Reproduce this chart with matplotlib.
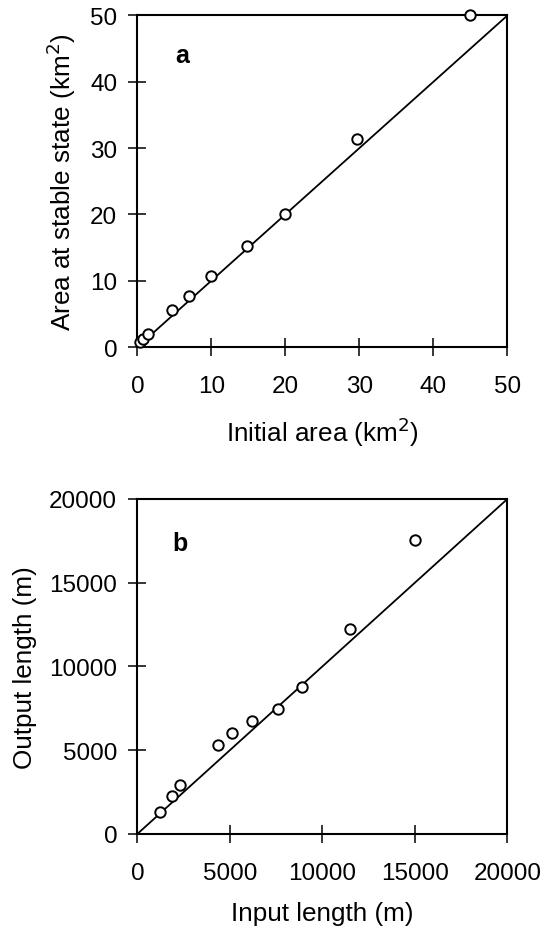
import matplotlib
matplotlib.use("Agg")
import matplotlib.pyplot as plt

plt.rcParams['font.family'] = ['Liberation Sans', 'DejaVu Sans']

# Panel a data
area_initial = [0.4, 0.8, 1.5, 4.7, 7.0, 9.9, 14.8, 19.9, 29.7, 44.9]
area_stable = [0.7, 1.2, 2.0, 5.6, 7.7, 10.7, 15.2, 20.0, 31.3, 50.0]
a_ticks = [0, 10, 20, 30, 40, 50]

# Panel b data
input_length = [1220, 1850, 2300, 4340, 5090, 6190, 7580, 8900, 11480, 14990]
output_length = [1330, 2290, 2920, 5310, 6010, 6750, 7440, 8780, 12240, 17550]
b_ticks = [0, 5000, 10000, 15000, 20000]

fig = plt.figure(figsize=(5.45, 9.37), dpi=100)
axa = fig.add_axes([0.252, 0.6286, 0.679, 0.3538])
axb = fig.add_axes([0.252, 0.1089, 0.679, 0.3575])

tfs = 17.5
lfs = 18.8

def style(ax, ticks):
    ax.set_xlim(ticks[0], ticks[-1])
    ax.set_ylim(ticks[0], ticks[-1])
    ax.set_xticks(ticks)
    ax.set_yticks(ticks)
    for s in ax.spines.values():
        s.set_linewidth(1.5)
    ax.tick_params(direction='inout', length=13, width=1.1, labelsize=tfs)
    ax.tick_params(axis='x', pad=14)
    ax.tick_params(axis='y', pad=8)

# panel a
axa.plot([0, 50], [0, 50], color='black', lw=1.3)
axa.plot(area_initial, area_stable, 'o', ms=7.5, mfc='white', mec='black', mew=1.4, clip_on=False, zorder=5)
style(axa, a_ticks)
axa.set_xlabel('Initial area (km$^2$)', fontsize=lfs, labelpad=12)
axa.set_ylabel('Area at stable state (km$^2$)', fontsize=lfs, labelpad=9)
axa.text(6, 44, 'a', fontsize=18, fontweight='bold', ha='center', va='center')

# panel b
axb.plot([0, 20000], [0, 20000], color='black', lw=1.3)
axb.plot(input_length, output_length, 'o', ms=7.5, mfc='white', mec='black', mew=1.4, clip_on=False, zorder=5)
style(axb, b_ticks)
axb.set_xlabel('Input length (m)', fontsize=lfs, labelpad=12)
axb.set_ylabel('Output length (m)', fontsize=lfs, labelpad=9)
axb.text(2300, 17400, 'b', fontsize=18, fontweight='bold', ha='center', va='center')

fig.savefig('out.png', dpi=100)
